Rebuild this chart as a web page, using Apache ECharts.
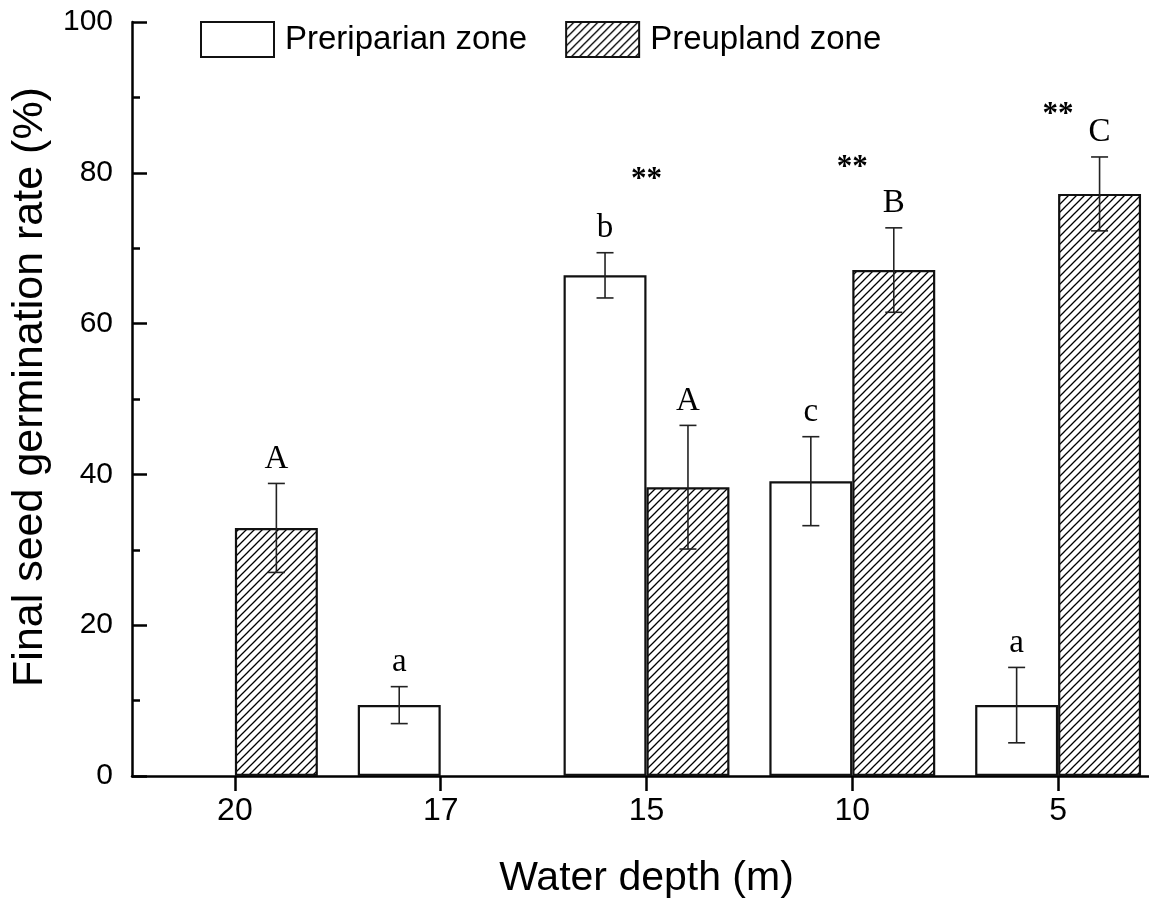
<!DOCTYPE html>
<html>
<head>
<meta charset="utf-8">
<script src="https://cdn.jsdelivr.net/npm/echarts/dist/echarts.min.js"></script>
<style>
  html, body { margin: 0; padding: 0; background: #fff; }
  #chart { width: 1149px; height: 901px; }
</style>
</head>
<body>
<div id="chart"></div>
<script>
// ---- data ----
const depths = ['20', '17', '15', '10', '5'];
const preriparian = [null, 9.4, 66.4, 39.1, 9.4];
const preripSD = [null, 2.45, 3.0, 5.9, 5.0];
const preripLetters = ['', 'a', 'b', 'c', 'a'];
const preupland = [32.9, null, 38.3, 67.1, 77.2];
const preupSD = [5.9, null, 8.2, 5.6, 4.9];
const preupLetters = ['A', '', 'A', 'B', 'C'];
const sigMarks = ['', '', '**', '**', '**'];
const sigHeight = [null, null, 79.0, 80.6, 87.7];
const yTicks = { min: 0, max: 100, interval: 20 };

const SANS = '"Liberation Sans", Arial, sans-serif';
const SERIF = '"Liberation Serif", "Times New Roman", serif';
const BAR_FRAC = 0.403;

function hatchCanvas() {
  const c = document.createElement('canvas');
  c.width = 8; c.height = 8;
  const g = c.getContext('2d');
  g.fillStyle = '#fff';
  g.fillRect(0, 0, 8, 8);
  g.strokeStyle = '#000';
  g.lineWidth = 1.3;
  g.beginPath();
  g.moveTo(0, 8); g.lineTo(8, 0);
  g.moveTo(-2, 2); g.lineTo(2, -2);
  g.moveTo(6, 10); g.lineTo(10, 6);
  g.stroke();
  return c;
}
const hatch = { image: hatchCanvas(), repeat: 'repeat' };

// error-bar data: [category index, value, sd, group(0=preriparian,1=preupland)]
const errData = [];
const errLetters = [];
depths.forEach((d, i) => {
  if (preriparian[i] != null) { errData.push([i, preriparian[i], preripSD[i], 0]); errLetters.push(preripLetters[i]); }
  if (preupland[i] != null) { errData.push([i, preupland[i], preupSD[i], 1]); errLetters.push(preupLetters[i]); }
});
const sigData = [];
const sigText = [];
depths.forEach((d, i) => {
  if (sigMarks[i]) { sigData.push([i, sigHeight[i]]); sigText.push(sigMarks[i]); }
});

const chart = echarts.init(document.getElementById('chart'), null, { renderer: 'canvas' });
chart.setOption({
  backgroundColor: '#fff',
  animation: false,
  grid: { left: 132, right: -12, top: 22, bottom: 125, containLabel: false, outerBoundsMode: 'none' },
  legend: {
    data: ['Preriparian zone', 'Preupland zone'],
    left: 200, top: 21,
    icon: 'rect',
    itemWidth: 73, itemHeight: 35, itemGap: 38,
    padding: 0,
    textStyle: { fontSize: 33, fontFamily: SANS, color: '#000', padding: [0, 0, 0, 6] }
  },
  xAxis: {
    type: 'category',
    data: depths,
    name: 'Water depth (m)',
    nameLocation: 'middle',
    nameGap: 82,
    nameTextStyle: { fontSize: 41, fontFamily: SANS, color: '#000' },
    axisLine: { show: true, lineStyle: { color: '#000', width: 2.5 } },
    axisTick: { show: true, alignWithLabel: true, inside: false, length: 15, lineStyle: { color: '#000', width: 2.5 } },
    axisLabel: { fontSize: 32, fontFamily: SANS, color: '#000', margin: 19 },
    splitLine: { show: false }
  },
  yAxis: {
    type: 'value',
    min: yTicks.min, max: yTicks.max, interval: yTicks.interval,
    name: 'Final seed germination rate (%)',
    nameLocation: 'middle',
    nameGap: 80,
    nameTextStyle: { fontSize: 43, fontFamily: SANS, color: '#000', padding: [0, 0, 0, 24] },
    axisLine: { show: true, lineStyle: { color: '#000', width: 2.5 } },
    axisTick: { show: true, inside: true, length: 15, lineStyle: { color: '#000', width: 2.5 } },
    minorTick: { show: true, splitNumber: 2, length: 8, lineStyle: { color: '#000', width: 2.5 } },
    axisLabel: { fontSize: 30, fontFamily: SANS, color: '#000', margin: 19 },
    splitLine: { show: false },
    minorSplitLine: { show: false }
  },
  series: [
    {
      name: 'Preriparian zone',
      type: 'bar',
      data: preriparian,
      barWidth: (BAR_FRAC * 100) + '%',
      barGap: '0%',
      itemStyle: { color: '#fff', borderColor: '#111', borderWidth: 2.2 },
      emphasis: { disabled: true }
    },
    {
      name: 'Preupland zone',
      type: 'bar',
      data: preupland,
      barWidth: (BAR_FRAC * 100) + '%',
      barGap: '0%',
      itemStyle: { color: hatch, borderColor: '#111', borderWidth: 2.2 },
      emphasis: { disabled: true }
    },
    {
      name: 'err',
      type: 'custom',
      data: errData,
      z: 10,
      clip: false,
      renderItem: function (params, api) {
        const ci = api.value(0), v = api.value(1), sd = api.value(2), grp = api.value(3);
        const bw = api.size([1, 0])[0] * BAR_FRAC;
        const base = api.coord([ci, v]);
        const cx = base[0] + (grp === 0 ? -0.5 : 0.5) * bw;
        const top = api.coord([ci, v + sd])[1];
        const bot = api.coord([ci, v - sd])[1];
        const cap = 8.5;
        const ls = { stroke: '#222', lineWidth: 1.6 };
        return {
          type: 'group',
          children: [
            { type: 'line', shape: { x1: cx, y1: top, x2: cx, y2: bot }, style: ls },
            { type: 'line', shape: { x1: cx - cap, y1: top, x2: cx + cap, y2: top }, style: ls },
            { type: 'line', shape: { x1: cx - cap, y1: bot, x2: cx + cap, y2: bot }, style: ls },
            { type: 'text', style: { text: errLetters[params.dataIndex], x: cx, y: top - 8, align: 'center', verticalAlign: 'bottom', font: '33px ' + SERIF, fill: '#000' } }
          ]
        };
      }
    },
    {
      name: 'sig',
      type: 'custom',
      data: sigData,
      z: 10,
      clip: false,
      renderItem: function (params, api) {
        const p = api.coord([api.value(0), api.value(1)]);
        return {
          type: 'text',
          style: { text: sigText[params.dataIndex], x: p[0], y: p[1], align: 'center', verticalAlign: 'middle', font: 'bold 31px ' + SERIF, fill: '#000' }
        };
      }
    }
  ]
});
</script>
</body>
</html>
